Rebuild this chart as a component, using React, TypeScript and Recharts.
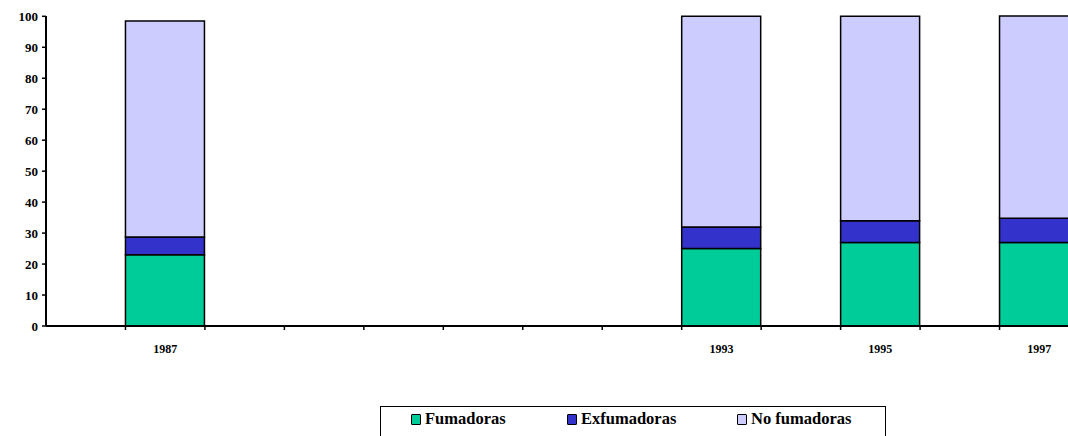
import { BarChart, Bar, XAxis, YAxis, Legend } from "recharts";

const years = ["", "1987", "", "", "", "", "", "", "1993", "", "1995", "", "1997"];
const fumadoras = [null, 23, null, null, null, null, null, null, 25, null, 27, null, 27];
const exfumadoras = [null, 5.7, null, null, null, null, null, null, 7, null, 7, null, 7.8];
const noFumadoras = [null, 69.8, null, null, null, null, null, null, 68, null, 66, null, 65.3];
const yTicks = [0, 10, 20, 30, 40, 50, 60, 70, 80, 90, 100];

const series = [
  { key: "fumadoras", name: "Fumadoras", color: "#00CC99" },
  { key: "exfumadoras", name: "Exfumadoras", color: "#3333CC" },
  { key: "noFumadoras", name: "No fumadoras", color: "#CCCCFF" },
];

const data = years.map((year, i) => ({
  year,
  fumadoras: fumadoras[i],
  exfumadoras: exfumadoras[i],
  noFumadoras: noFumadoras[i],
}));

const CHART_W = 1080;
const CHART_H = 436;
const Y_W = 46;
const M_RIGHT = 1;
const SLOT = (CHART_W - Y_W - M_RIGHT) / years.length;
const FONT = "Liberation Serif, DejaVu Serif, Times New Roman, serif";

const XTick = (props: any) => {
  const { x, y, payload } = props;
  return (
    <g>
      <line x1={x + SLOT / 2} x2={x + SLOT / 2} y1={y} y2={y + 4} stroke="#000" strokeWidth={1.5} />
      {payload.value && (
        <text
          x={x}
          y={y + 27}
          textAnchor="middle"
          style={{ fontFamily: FONT, fontWeight: 700, fontSize: 12 }}
          fill="#000"
        >
          {payload.value}
        </text>
      )}
    </g>
  );
};

const LegendBox = () => (
  <div
    style={{
      width: 506,
      height: 32,
      border: "1.5px solid #000",
      fontFamily: FONT,
      fontWeight: 700,
      fontSize: 16.5,
      color: "#000",
      background: "#fff",
      boxSizing: "border-box",
      position: "relative",
    }}
  >
    {series.map((s, i) => (
      <div
        key={s.key}
        style={{
          position: "absolute",
          left: [30, 186, 356][i],
          top: 2,
          display: "flex",
          alignItems: "center",
          whiteSpace: "nowrap",
        }}
      >
        <span
          style={{
            display: "inline-block",
            width: 8,
            height: 9,
            background: s.color,
            border: "1.5px solid #000",
            borderRadius: 1,
            marginRight: 4,
          }}
        />
        {s.name}
      </div>
    ))}
  </div>
);

export default function App() {
  return (
    <div
      style={{
        position: "fixed",
        left: 0,
        top: 0,
        width: 1068,
        height: 436,
        overflow: "hidden",
        background: "#fff",
      }}
    >
      <BarChart
        width={CHART_W}
        height={CHART_H}
        data={data}
        margin={{ top: 16, right: M_RIGHT, left: 0, bottom: 80 }}
        barCategoryGap={0}
        style={{ fontFamily: FONT }}
      >
        <XAxis
          dataKey="year"
          height={30}
          tickLine={false}
          tickSize={0}
          tickMargin={0}
          interval={0}
          axisLine={{ stroke: "#000", strokeWidth: 2 }}
          tick={<XTick />}
        />
        <YAxis
          width={Y_W}
          domain={[0, 100]}
          ticks={yTicks}
          interval={0}
          tickSize={4}
          tickMargin={4}
          axisLine={{ stroke: "#000", strokeWidth: 2 }}
          tickLine={{ stroke: "#000", strokeWidth: 1.5 }}
          tick={{ fill: "#000", style: { fontFamily: FONT, fontWeight: 700, fontSize: 13 } }}
        />
        <Legend
          layout="horizontal"
          verticalAlign="middle"
          align="center"
          content={<LegendBox />}
          wrapperStyle={{ position: "absolute", top: 406, left: 380, width: 506 }}
        />
        {series.map((s) => (
          <Bar
            key={s.key}
            dataKey={s.key}
            name={s.name}
            stackId="a"
            fill={s.color}
            stroke="#000"
            strokeWidth={1.5}
            isAnimationActive={false}
          />
        ))}
      </BarChart>
    </div>
  );
}
